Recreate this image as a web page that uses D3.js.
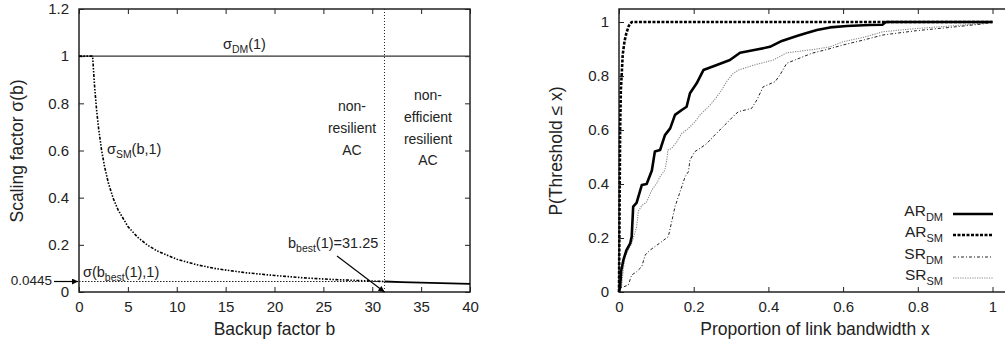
<!DOCTYPE html>
<html><head><meta charset="utf-8">
<script src="https://cdn.jsdelivr.net/npm/d3@7"></script>
<style>
body{margin:0;background:#fff;}
svg{font-family:"Liberation Sans",Arial,Helvetica,sans-serif;}
</style></head>
<body><svg id="c" width="1005" height="345"></svg>
<script>
// ---------- Left chart data ----------
const leftXTicks = [0,5,10,15,20,25,30,35,40];
const leftYTicks = [0,0.2,0.4,0.6,0.8,1,1.2];
const bBest = 31.25;
const sigmaBest = 0.0445;
const sigmaDM = 1;
// sigma_SM(b,1) (b, sigma)
const sigmaSM_b = [0,1.39,1.6,1.8,2,2.3,2.6,3,3.5,4,5,6,7,8,10,12,14,17,20,23,26,29,31.25];
const sigmaSM_v = [1,1,0.869,0.772,0.695,0.604,0.535,0.463,0.397,0.348,0.278,0.232,0.199,0.174,0.139,0.116,0.099,0.082,0.070,0.060,0.053,0.048,0.0445];
// beyond b_best (solid)
const sigmaTail_b = [31.25,33,35,37,40];
const sigmaTail_v = [0.0445,0.0421,0.0397,0.0376,0.0348];

// ---------- Right chart data ----------
const rightXTicks = [0,0.2,0.4,0.6,0.8,1];
const rightXLabels = ["0","0.2","0.4","0.6","0.8","1"];
const rightYTicks = [0,0.2,0.4,0.6,0.8,1];
const seriesNames = ["AR_DM","AR_SM","SR_DM","SR_SM"];
const AR_DM_x = [0,0.003,0.006,0.012,0.02,0.03,0.034,0.038,0.047,0.061,0.074,0.088,0.096,0.11,0.123,0.137,0.15,0.168,0.181,0.19,0.208,0.226,0.26,0.297,0.324,0.369,0.404,0.436,0.476,0.50,0.53,0.565,0.61,0.67,0.705,0.715,1.0];
const AR_DM_y = [0,0.02,0.08,0.12,0.155,0.18,0.205,0.316,0.33,0.396,0.40,0.45,0.52,0.526,0.581,0.606,0.656,0.674,0.686,0.736,0.773,0.822,0.84,0.859,0.886,0.898,0.908,0.93,0.948,0.958,0.97,0.98,0.985,0.989,0.99,1.0,1.0];
const AR_SM_x = [0,0.001,0.002,0.003,0.005,0.007,0.01,0.015,0.02,0.026,0.034,1];
const AR_SM_y = [0,0.2,0.4,0.6,0.75,0.8,0.88,0.93,0.96,0.985,1,1];
const SR_DM_x = [0,0.003,0.025,0.034,0.047,0.061,0.07,0.083,0.096,0.114,0.132,0.141,0.15,0.159,0.168,0.177,0.186,0.19,0.203,0.217,0.235,0.252,0.27,0.288,0.31,0.32,0.355,0.369,0.386,0.418,0.431,0.449,0.476,0.516,0.556,0.60,0.654,0.707,0.797,0.886,0.975,1];
const SR_DM_y = [0,0.014,0.026,0.063,0.075,0.094,0.137,0.155,0.168,0.186,0.205,0.26,0.316,0.353,0.39,0.427,0.446,0.489,0.52,0.532,0.55,0.575,0.60,0.625,0.656,0.668,0.68,0.711,0.76,0.779,0.804,0.847,0.862,0.884,0.898,0.915,0.933,0.952,0.968,0.98,0.993,1];
const SR_SM_x = [0,0.007,0.012,0.016,0.025,0.034,0.047,0.052,0.061,0.074,0.088,0.10,0.11,0.123,0.128,0.131,0.141,0.155,0.168,0.186,0.203,0.217,0.235,0.248,0.262,0.275,0.288,0.306,0.32,0.36,0.413,0.449,0.52,0.565,0.60,0.654,0.707,0.797,0.886,0.975,1];
const SR_SM_y = [0,0.02,0.09,0.13,0.155,0.18,0.24,0.30,0.32,0.334,0.378,0.40,0.427,0.452,0.49,0.526,0.532,0.557,0.587,0.606,0.63,0.656,0.68,0.699,0.723,0.748,0.779,0.81,0.822,0.84,0.859,0.886,0.898,0.908,0.927,0.943,0.964,0.976,0.985,0.995,1];

const svg = d3.select("#c");
const zip = (xs, ys) => xs.map((x,i)=>[x, ys[i]]);

function frameAxes(g, x, y, xt, yt, xfmt, yfmt, mirrorY){
  const [x0,x1] = x.range(), [y0,y1] = y.range();
  // bottom axis
  const ab = g.append("g").attr("transform",`translate(0,${y0})`)
    .call(d3.axisBottom(x).tickValues(xt).tickFormat(xfmt).tickSizeInner(-5).tickSizeOuter(0).tickPadding(9));
  const at = g.append("g").attr("transform",`translate(0,${y1})`)
    .call(d3.axisTop(x).tickValues(xt).tickFormat("").tickSizeInner(-5).tickSizeOuter(0));
  const al = g.append("g").attr("transform",`translate(${x0},0)`)
    .call(d3.axisLeft(y).tickValues(yt).tickFormat(yfmt).tickSizeInner(-5).tickSizeOuter(0).tickPadding(10));
  const axes=[ab,at,al];
  if(mirrorY){
    axes.push(g.append("g").attr("transform",`translate(${x1},0)`)
      .call(d3.axisRight(y).tickValues(yt).tickFormat("").tickSizeInner(-5).tickSizeOuter(0)));
  }
  axes.forEach(a=>{a.select(".domain").remove();
    a.selectAll("line").attr("stroke","#222").attr("stroke-width",1);
    a.selectAll("text").attr("fill","#222").style("font-size","15px");});
  g.append("rect").attr("x",x0).attr("y",y1).attr("width",x1-x0).attr("height",y0-y1)
    .attr("fill","none").attr("stroke","#222").attr("stroke-width",1.5);
}

// ================= LEFT =================
const xL = d3.scaleLinear().domain([0,40]).range([79,470]);
const yL = d3.scaleLinear().domain([0,1.2]).range([292,9]);
const gL = svg.append("g");
frameAxes(gL, xL, yL, leftXTicks, leftYTicks, d3.format("d"), d=>d===0?"0":(d===1?"1":d3.format(".1f")(d)), true);

// sigma_DM(1) line
gL.append("line").attr("x1",xL(0)).attr("x2",xL(40)).attr("y1",yL(sigmaDM)).attr("y2",yL(sigmaDM))
  .attr("stroke","#333").attr("stroke-width",1.2);
// vertical dotted at b_best
gL.append("line").attr("x1",xL(bBest)).attr("x2",xL(bBest)).attr("y1",yL(0)).attr("y2",yL(1.2))
  .attr("stroke","#222").attr("stroke-width",1).attr("stroke-dasharray","1,2");
// horizontal dotted at sigmaBest
gL.append("line").attr("x1",xL(0)).attr("x2",xL(bBest)).attr("y1",yL(sigmaBest)).attr("y2",yL(sigmaBest))
  .attr("stroke","#222").attr("stroke-width",1.2).attr("stroke-dasharray","1.5,1.5");
const lineL = d3.line().x(d=>xL(d[0])).y(d=>yL(d[1]));
gL.append("path").datum(zip(sigmaSM_b,sigmaSM_v)).attr("d",lineL).attr("fill","none")
  .attr("stroke","#000").attr("stroke-width",1.6).attr("stroke-dasharray","3,1.5,1.5,1.5,1.5,1.5");
gL.append("path").datum(zip(sigmaTail_b,sigmaTail_v)).attr("d",lineL).attr("fill","none")
  .attr("stroke","#000").attr("stroke-width",1.8);

// annotations
const ann = (g, x, y, parts, size, anchor) => {
  const t = g.append("text").attr("x",x).attr("y",y).attr("text-anchor",anchor||"start")
    .style("font-size",size+"px").attr("fill","#222");
  parts.forEach(p=>{
    const ts = t.append("tspan").text(p.t);
    if(p.sub){ ts.attr("dy",4).style("font-size",(size*0.72)+"px"); }
    else if(p.back){ ts.attr("dy",-4); }
  });
  return t;
};
ann(gL, 223, 49, [{t:"σ"},{t:"DM",sub:1},{t:"(1)",back:1}], 14.5);
ann(gL, 107, 154, [{t:"σ"},{t:"SM",sub:1},{t:"(b,1)",back:1}], 14.5);
ann(gL, 83, 277, [{t:"σ(b"},{t:"best",sub:1},{t:"(1),1)",back:1}], 14.5);
ann(gL, 288, 248, [{t:"b"},{t:"best",sub:1},{t:"(1)=31.25",back:1}], 14.5);
gL.append("text").attr("x",52).attr("y",285).attr("text-anchor","end").style("font-size","13.5px").attr("fill","#222").text("0.0445");

// arrows
const defs = svg.append("defs");
defs.append("marker").attr("id","ah").attr("viewBox","0 0 10 10").attr("refX",10).attr("refY",5)
  .attr("markerWidth",8).attr("markerHeight",6).attr("orient","auto").attr("markerUnits","userSpaceOnUse")
  .append("path").attr("d","M0,0 L10,5 L0,10 z").attr("fill","#000");
gL.append("line").attr("x1",54).attr("x2",xL(0)-1).attr("y1",yL(sigmaBest)).attr("y2",yL(sigmaBest))
  .attr("stroke","#000").attr("stroke-width",1.2).attr("marker-end","url(#ah)");
gL.append("line").attr("x1",337).attr("y1",256).attr("x2",xL(bBest)).attr("y2",yL(0))
  .attr("stroke","#000").attr("stroke-width",1.1).attr("marker-end","url(#ah)");

const multi = (g, cx, cy, lines, size) => {
  const lh = 21.7, n = lines.length;
  lines.forEach((l,i)=>{
    g.append("text").attr("x",cx).attr("y",cy + (i-(n-1)/2)*lh).attr("dy","0.35em")
      .attr("text-anchor","middle").style("font-size",size+"px").attr("fill","#222").text(l);
  });
};
multi(gL, 352, 128, ["non-","resilient","AC"], 14);
multi(gL, 428, 128, ["non-","efficient","resilient","AC"], 14);

// axis titles
gL.append("text").attr("x",xL(20)).attr("y",335).attr("text-anchor","middle").style("font-size","17.5px").attr("fill","#222").text("Backup factor b");
gL.append("text").attr("transform","translate(23,151) rotate(-90)").attr("text-anchor","middle").style("font-size","17.5px").attr("fill","#222").text("Scaling factor σ(b)");

// ================= RIGHT =================
const xR = d3.scaleLinear().domain([0,1]).range([619,992.5]);
const yR = d3.scaleLinear().domain([0,1]).range([292,22]);
const gR = svg.append("g");
// frame extends past the window edge
const xRf = d3.scaleLinear().domain([0,1.05]).range([619,619+373.5*1.05]);
const yRf = d3.scaleLinear().domain([0,1.048]).range([292,9]);
// axes using data scales, frame from extended ones
(function(){
  const ab = gR.append("g").attr("transform","translate(0,292)")
    .call(d3.axisBottom(xR).tickValues(rightXTicks).tickFormat((d,i)=>rightXLabels[i]).tickSizeInner(-5).tickSizeOuter(0).tickPadding(9));
  const at = gR.append("g").attr("transform","translate(0,9)")
    .call(d3.axisTop(xR).tickValues(rightXTicks).tickFormat("").tickSizeInner(-5).tickSizeOuter(0));
  const al = gR.append("g").attr("transform","translate(619,0)")
    .call(d3.axisLeft(yR).tickValues(rightYTicks).tickFormat(d=>d===0?"0":(d===1?"1":d3.format(".1f")(d))).tickSizeInner(-5).tickSizeOuter(0).tickPadding(10));
  [ab,at,al].forEach(a=>{a.select(".domain").remove();
    a.selectAll("line").attr("stroke","#222").attr("stroke-width",1);
    a.selectAll("text").attr("fill","#222").style("font-size","15px");});
  gR.append("rect").attr("x",xRf(0)).attr("y",yRf(1.048)).attr("width",xRf(1.05)-xRf(0)).attr("height",yRf(0)-yRf(1.048))
    .attr("fill","none").attr("stroke","#222").attr("stroke-width",1.5);
})();

const styles = {
  AR_DM:{c:"#000",w:2.6,d:null},
  AR_SM:{c:"#000",w:2.6,d:"3,1.5"},
  SR_DM:{c:"#222",w:1,d:"3,2,1,2"},
  SR_SM:{c:"#888",w:1.1,d:"1.2,1.2"}
};
const seriesData = {AR_DM:zip(AR_DM_x,AR_DM_y),AR_SM:zip(AR_SM_x,AR_SM_y),SR_DM:zip(SR_DM_x,SR_DM_y),SR_SM:zip(SR_SM_x,SR_SM_y)};
const lineR = d3.line().x(d=>xR(d[0])).y(d=>yR(d[1]));
["SR_SM","SR_DM","AR_DM","AR_SM"].forEach(k=>{
  const s=styles[k];
  const p=gR.append("path").datum(seriesData[k]).attr("d",lineR).attr("fill","none")
    .attr("stroke",s.c).attr("stroke-width",s.w).attr("stroke-linejoin","round");
  if(s.d) p.attr("stroke-dasharray",s.d);
});

// legend
const legY = [213,234,256,277];
seriesNames.forEach((k,i)=>{
  const [a,b] = k.split("_");
  const t = gR.append("text").attr("x",943).attr("y",legY[i]+3).attr("text-anchor","end")
    .style("font-size","15.5px").attr("fill","#222");
  t.append("tspan").text(a);
  t.append("tspan").attr("dy",5).style("font-size","11px").text(b);
  const s=styles[k];
  const l=gR.append("line").attr("x1",953).attr("x2",993).attr("y1",legY[i]+1).attr("y2",legY[i]+1)
    .attr("stroke",s.c).attr("stroke-width",s.w);
  if(s.d) l.attr("stroke-dasharray",s.d);
});

gR.append("text").attr("x",815).attr("y",335).attr("text-anchor","middle").style("font-size","17.5px").attr("fill","#222").text("Proportion of link bandwidth x");
gR.append("text").attr("transform","translate(562,151) rotate(-90)").attr("text-anchor","middle").style("font-size","17.5px").attr("fill","#222").text("P(Threshold ≤ x)");
</script></body></html>
